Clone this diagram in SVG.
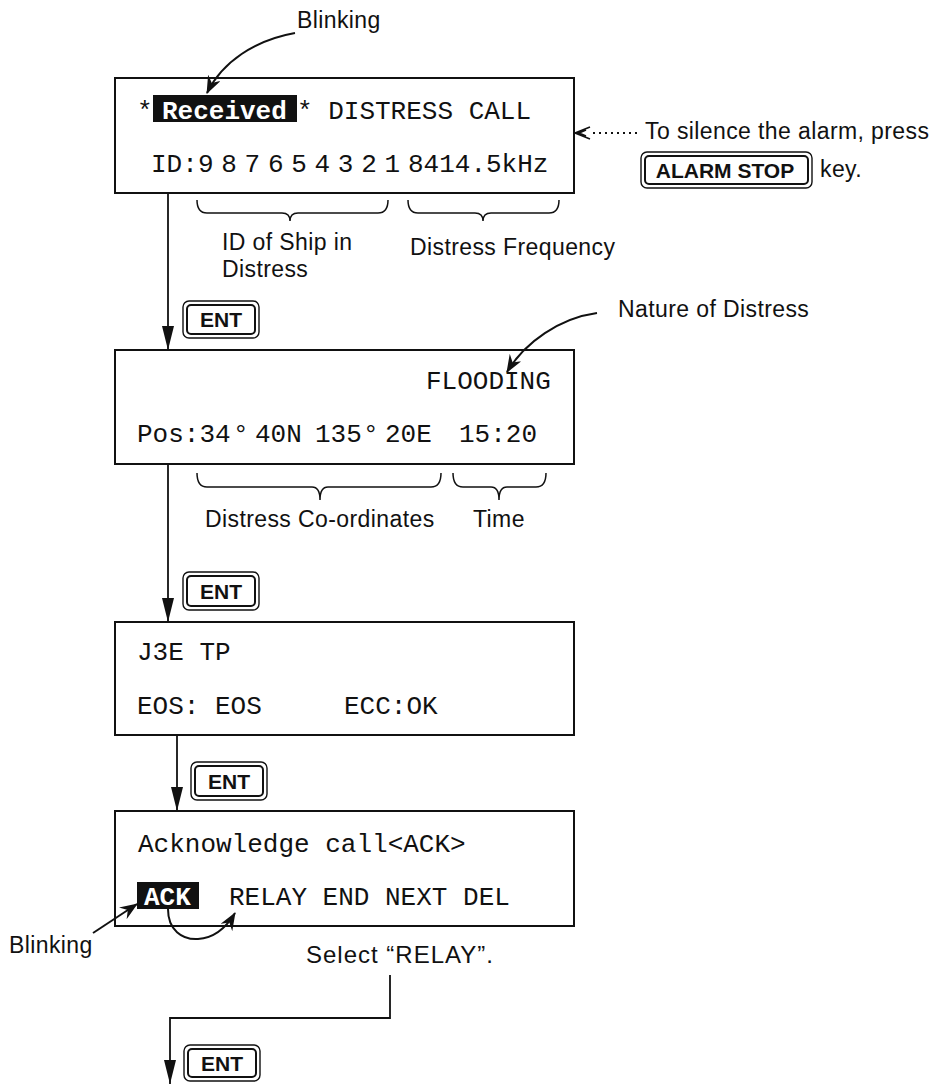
<svg xmlns="http://www.w3.org/2000/svg" width="934" height="1085" viewBox="0 0 934 1085">
<style>
.box{fill:none;stroke:#111;stroke-width:2}
.mono{font-family:"Liberation Mono","DejaVu Sans Mono",monospace;font-size:26px;fill:#111}
.inv{font-weight:bold;fill:#fff}
.hl{fill:#111}
.lbl{font-family:"Liberation Sans",Arial,sans-serif;font-size:23px;letter-spacing:0.4px;fill:#111}
.kout{fill:#fff;stroke:#111;stroke-width:1.4}
.kin{fill:none;stroke:#111;stroke-width:2}
.ktxt{font-family:"Liberation Sans",Arial,sans-serif;font-size:21px;font-weight:bold;fill:#111;text-anchor:middle}
.con{fill:none;stroke:#111;stroke-width:1.8}
.ptr{fill:none;stroke:#111;stroke-width:2}
.brace{fill:none;stroke:#111;stroke-width:1.5}
</style>
<defs>
<marker id="ah" markerUnits="userSpaceOnUse" markerWidth="24" markerHeight="12" viewBox="0 0 22 11" refX="22" refY="5.5" orient="auto">
<path d="M0,0 L22,5.5 L0,11 z" fill="#111"/>
</marker>
<marker id="barb" markerUnits="userSpaceOnUse" markerWidth="18" markerHeight="14" viewBox="0 0 18 14" refX="17" refY="7" orient="auto">
<path d="M0,0 L18,7 L0,14 L6,7 z" fill="#111"/>
</marker>
</defs>

<g id="blinking-top">
<text class="lbl" x="297" y="28">Blinking</text>
</g>

<g id="screen-1">
<rect class="box" x="115" y="78" width="459" height="115"/>
<rect class="hl" x="153" y="95" width="144" height="27"/>
<text class="mono" y="119"><tspan x="137">*</tspan><tspan x="162" class="inv">Received</tspan><tspan x="297">* DISTRESS CALL</tspan></text>
<text class="mono" x="151" y="172">ID:</text>
<text class="mono" x="198" y="172" word-spacing="-7.9">9 8 7 6 5 4 3 2 1</text>
<text class="mono" x="408" y="172">8414.5kHz</text>
</g>

<g id="alarm-note">
<text class="lbl" x="645" y="139">To silence the alarm, press</text>
<rect class="kout" x="641" y="152" width="171" height="36" rx="6"/>
<rect class="kin" x="645" y="156" width="163" height="28" rx="4"/>
<text class="ktxt" x="725" y="178">ALARM STOP</text>
<text class="lbl" x="820" y="177">key.</text>
</g>

<g id="braces-1">
<path class="brace" d="M197,200 Q197,213 207,213 L282,213 Q290,213 290,221 Q290,213 298,213 L378,213 Q388,213 388,200"/>
<path class="brace" d="M408,200 Q408,213 418,213 L475,213 Q483,213 483,221 Q483,213 491,213 L549,213 Q559,213 559,200"/>
<text class="lbl" x="222" y="250">ID of Ship in</text>
<text class="lbl" x="222" y="277">Distress</text>
<text class="lbl" x="410" y="255">Distress Frequency</text>
</g>

<g id="ent-1">
<rect class="kout" x="183" y="301" width="76" height="37" rx="6"/>
<rect class="kin" x="187" y="305" width="68" height="29" rx="4"/>
<text class="ktxt" x="221" y="327">ENT</text>
</g>

<g id="nature-label">
<text class="lbl" x="618" y="317">Nature of Distress</text>
</g>

<g id="screen-2">
<rect class="box" x="115" y="350" width="459" height="114"/>
<text class="mono" x="426" y="389">FLOODING</text>
<text class="mono" y="442"><tspan x="137">Pos:34</tspan><tspan x="233">°</tspan><tspan x="255">40N</tspan><tspan x="299.4"> 135</tspan><tspan x="363">°</tspan><tspan x="385">20E</tspan><tspan x="443.4"> 15:20</tspan></text>
</g>

<g id="braces-2">
<path class="brace" d="M197,473 Q197,487 207,487 L312,487 Q320,487 320,500 Q320,487 328,487 L431,487 Q441,487 441,473"/>
<path class="brace" d="M453,473 Q453,487 463,487 L491,487 Q499,487 499,500 Q499,487 507,487 L536,487 Q546,487 546,473"/>
<text class="lbl" x="205" y="527">Distress Co-ordinates</text>
<text class="lbl" x="473" y="527">Time</text>
</g>

<g id="ent-2">
<rect class="kout" x="183" y="572" width="76" height="38" rx="6"/>
<rect class="kin" x="187" y="576" width="68" height="30" rx="4"/>
<text class="ktxt" x="221" y="599">ENT</text>
</g>

<g id="screen-3">
<rect class="box" x="115" y="622" width="459" height="113"/>
<text class="mono" x="137" y="660">J3E TP</text>
<text class="mono" y="714"><tspan x="137">EOS: EOS</tspan><tspan x="328.4"> ECC:OK</tspan></text>
</g>

<g id="ent-3">
<rect class="kout" x="191" y="762" width="76" height="38" rx="6"/>
<rect class="kin" x="195" y="766" width="68" height="30" rx="4"/>
<text class="ktxt" x="229" y="789">ENT</text>
</g>

<g id="screen-4">
<rect class="box" x="115" y="811" width="459" height="115"/>
<text class="mono" x="138" y="852">Acknowledge call&lt;ACK&gt;</text>
<rect class="hl" x="137" y="882" width="62" height="27"/>
<text class="mono" y="905"><tspan x="144" class="inv">ACK</tspan><tspan x="213.4"> RELAY END NEXT DEL</tspan></text>
</g>

<g id="blinking-bottom">
<text class="lbl" x="9" y="953">Blinking</text>
</g>

<g id="select-relay">
<text class="lbl" x="306" y="963" style="font-size:24px;letter-spacing:1px">Select “RELAY”.</text>
</g>

<g id="ent-4">
<rect class="kout" x="184" y="1045" width="76" height="36" rx="6"/>
<rect class="kin" x="188" y="1049" width="68" height="28" rx="4"/>
<text class="ktxt" x="222" y="1071">ENT</text>
</g>

<g id="connectors">
<line class="con" x1="168" y1="193" x2="168" y2="350" marker-end="url(#ah)"/>
<line class="con" x1="168" y1="464" x2="168" y2="622" marker-end="url(#ah)"/>
<line class="con" x1="177" y1="735" x2="177" y2="811" marker-end="url(#ah)"/>
<polyline class="con" points="390,975 390,1018 170,1018 170,1084" marker-end="url(#ah)"/>
<path class="ptr" d="M295,33 C255,40 222,62 207,93" marker-end="url(#barb)"/>
<path class="ptr" d="M597,313 C560,318 525,342 507,372" marker-end="url(#barb)"/>
<path class="ptr" d="M93,933 L137,904" marker-end="url(#barb)"/>
<path class="ptr" d="M168,909 C168,930 182,940 198,939 C214,938 226,928 235,913" marker-end="url(#barb)"/>
<line x1="637" y1="133" x2="590" y2="133" stroke="#111" stroke-width="2" stroke-dasharray="2,4"/>
<path d="M590,127 L575,133 L590,139 M586,130 L579,133 L586,136" fill="none" stroke="#111" stroke-width="1.6"/>
</g>
</svg>
